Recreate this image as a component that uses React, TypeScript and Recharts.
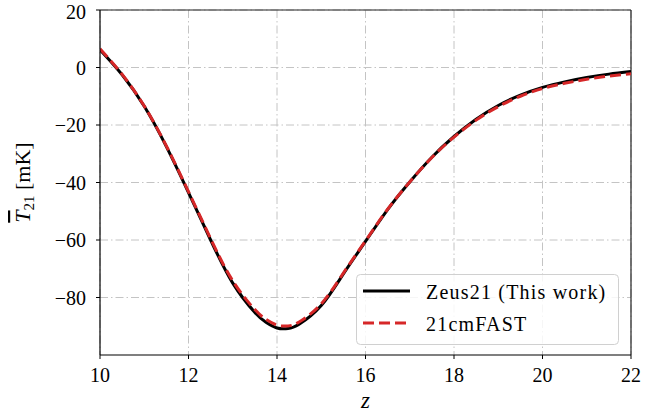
import React from 'react';
import { LineChart, Line, XAxis, YAxis, CartesianGrid, ReferenceLine, Legend } from 'recharts';

const zValues = [10, 10.5, 11, 11.5, 12, 12.5, 13, 13.5, 13.75, 14, 14.25, 14.5, 15, 15.5, 16, 16.5, 17, 17.5, 18, 18.5, 19, 19.5, 20, 20.5, 21, 21.5, 22];
const zeus21 = [6.2, -2.5, -13.5, -27.5, -43.5, -60, -75, -85.2, -88.6, -90.6, -90.8, -89.3, -82.8, -71.8, -60.5, -49.4, -39.8, -31.2, -24, -18, -13.2, -9.6, -6.9, -5, -3.5, -2.3, -1.4];
const cmfast21 = [6.5, -2.4, -13.4, -27.3, -43.2, -59.5, -74.2, -84.2, -87.6, -89.6, -89.9, -88.5, -82.2, -71.5, -60.3, -49.3, -39.8, -31.3, -24.2, -18.3, -13.6, -10, -7.3, -5.5, -4.1, -3, -2.2];
const xTicks = [10, 12, 14, 16, 18, 20, 22];
const yTicks = [-80, -60, -40, -20, 0, 20];
const seriesNames = ['Zeus21 (This work)', '21cmFAST'];

const data = zValues.map((z, i) => ({ z, zeus: zeus21[i], fast: cmfast21[i] }));

const FONT = 'Liberation Serif, serif';
const fmt = (v: number) => (v < 0 ? '\u2212' + Math.abs(v) : String(v));
const RED = '#d62728';

const YLabel = (props: any) => {
  const vb = props.viewBox || { x: 0, y: 0, width: 100, height: 345 };
  const cx = vb.x + 30;
  const cy = vb.y + vb.height / 2;
  return (
    <text transform={`translate(${cx},${cy}) rotate(-90)`} textAnchor="middle" fontFamily={FONT} fontSize={22} fill="#000">
      <tspan fontStyle="italic" style={{ textDecoration: 'overline' }}>T</tspan>
      <tspan fontSize={15} dy={4}>21</tspan>
      <tspan dy={-4}> [mK]</tspan>
    </text>
  );
};

const XLabel = (props: any) => {
  const vb = props.viewBox || { x: 100, y: 355, width: 531, height: 63 };
  return (
    <text x={vb.x + vb.width / 2} y={408} textAnchor="middle" fontFamily={FONT} fontSize={23} fontStyle="italic" fill="#000">
      z
    </text>
  );
};

const LegendBox = () => (
  <svg width={264} height={72} style={{ display: 'block', overflow: 'visible' }}>
    <rect x={0.5} y={0.5} width={262} height={70} rx={4} ry={4} fill="rgba(255,255,255,0.85)" stroke="#d0d0d0" strokeWidth={1} />
    <line x1={7} x2={54} y1={17} y2={17} stroke="#000" strokeWidth={3} />
    <line x1={7} x2={54} y1={49} y2={49} stroke={RED} strokeWidth={3} strokeDasharray="11 5" />
    <text x={70} y={25} fontFamily={FONT} fontSize={20} letterSpacing={1.2} fill="#000">{seriesNames[0]}</text>
    <text x={70} y={57} fontFamily={FONT} fontSize={20} letterSpacing={1.2} fill="#000">{seriesNames[1]}</text>
  </svg>
);

export default function App() {
  return (
    <div style={{ position: 'absolute', left: 0, top: 0, width: 670, height: 418, background: '#fff', fontFamily: FONT }}>
      <LineChart width={670} height={418} data={data} margin={{ top: 10, right: 39, bottom: 0, left: 0 }} style={{ fontFamily: FONT }}>
        <CartesianGrid stroke="#c4c4c4" strokeWidth={1} strokeDasharray="8 3 1.5 3" horizontalValues={yTicks} verticalValues={xTicks} />
        <XAxis
          dataKey="z"
          type="number"
          domain={[10, 22]}
          ticks={xTicks}
          height={63}
          tickSize={4}
          tickMargin={9}
          stroke="#000"
          tick={{ fontFamily: FONT, fontSize: 20, fill: '#000' }}
          tickLine={{ stroke: '#000' }}
          axisLine={{ stroke: '#000', strokeWidth: 1.2 }}
          label={{ content: XLabel }}
          allowDataOverflow
        />
        <YAxis
          type="number"
          domain={[-100, 20]}
          ticks={yTicks}
          width={100}
          tickSize={4}
          tickMargin={10}
          tickFormatter={fmt}
          tick={{ fontFamily: FONT, fontSize: 20, fill: '#000' }}
          tickLine={{ stroke: '#000' }}
          axisLine={{ stroke: '#000', strokeWidth: 1.2 }}
          label={{ content: YLabel }}
          allowDataOverflow
        />
        <ReferenceLine y={20} stroke="#222" strokeWidth={1.2} ifOverflow="visible" />
        <ReferenceLine x={22} stroke="#222" strokeWidth={1.2} ifOverflow="visible" />
        <Line type="natural" dataKey="zeus" name={seriesNames[0]} stroke="#000" strokeWidth={3} dot={false} isAnimationActive={false} />
        <Line type="natural" dataKey="fast" name={seriesNames[1]} stroke={RED} strokeWidth={3} strokeDasharray="11 5" dot={false} isAnimationActive={false} />
        <Legend
          layout="vertical"
          align="center"
          verticalAlign="middle"
          content={LegendBox}
          wrapperStyle={{ position: 'absolute', left: 356, top: 274, width: 264, height: 72 }}
        />
      </LineChart>
    </div>
  );
}
